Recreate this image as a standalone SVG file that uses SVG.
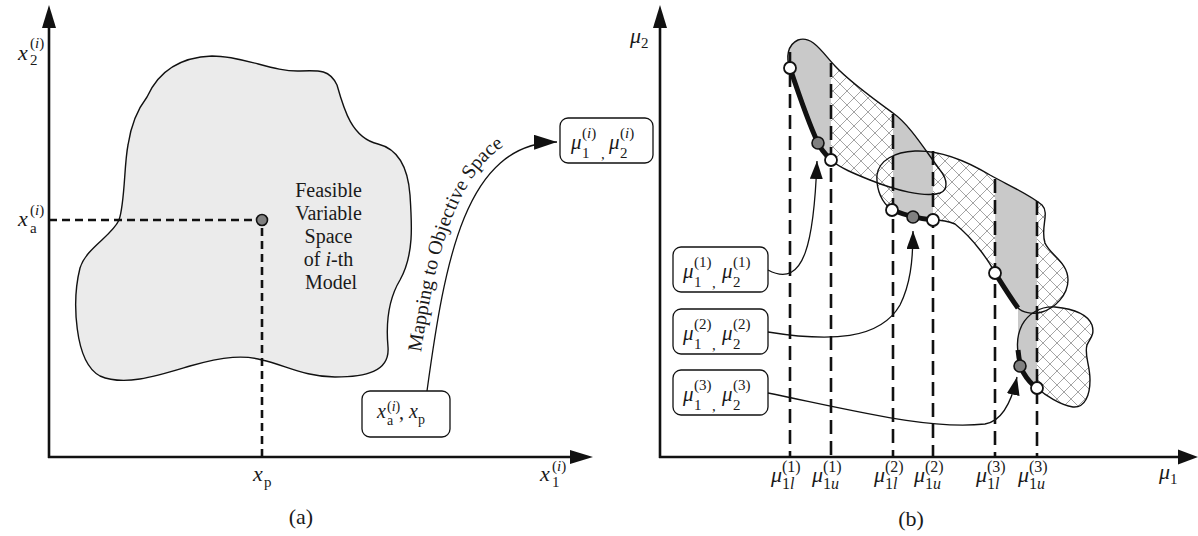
<svg xmlns="http://www.w3.org/2000/svg" width="1198" height="536" viewBox="0 0 1198 536">
  <style>
    .axis { stroke: #111; stroke-width: 2.6; fill: none; }
    .head { fill: #111; stroke: none; }
    .dash-a { stroke: #111; stroke-width: 2.6; stroke-dasharray: 8 5; fill: none; }
    .dash-b { stroke: #111; stroke-width: 2.6; stroke-dasharray: 14 7; fill: none; }
    .box { fill: #fff; stroke: #111; stroke-width: 1.3; }
    .outline { fill: none; stroke: #111; stroke-width: 1.4; }
    .hatched { fill: url(#cross); stroke: none; }
    .band { fill: #c9c9c9; stroke: none; }
    .front { fill: none; stroke: #111; stroke-width: 5; }
    .open { fill: #fff; stroke: #111; stroke-width: 1.8; }
    .mark { fill: #808080; stroke: #111; stroke-width: 1.6; }
    .link { fill: none; stroke: #111; stroke-width: 1.3; }
    .txt { font-family: "Liberation Serif", "Times New Roman", serif; fill: #1a1a1a; }
    .it { font-style: italic; }
  </style>
  <defs>
    <pattern id="cross" patternUnits="userSpaceOnUse" width="14" height="14">
      <rect width="14" height="14" fill="#fff"/>
      <path d="M0,0 L14,14 M14,0 L0,14" stroke="#9a9a9a" stroke-width="0.9" fill="none"/>
    </pattern>
    <marker id="headL" viewBox="0 0 23 15" refX="23" refY="7.5" markerWidth="23" markerHeight="15" markerUnits="userSpaceOnUse" orient="auto">
      <path d="M0,0 L23,7.5 L0,15 Z" fill="#111"/>
    </marker>
    <marker id="headR" viewBox="0 0 18 13" refX="18" refY="6.5" markerWidth="18" markerHeight="13" markerUnits="userSpaceOnUse" orient="auto">
      <path d="M0,0 L18,6.5 L0,13 Z" fill="#111"/>
    </marker>
    <path id="blob1" d="M 790,68 C 786,58 787,45 798,40 C 812,35 822,52 835,66 C 850,82 875,100 893,113 C 910,125 925,150 940,170 C 948,180 948,190 940,193 C 925,198 895,190 870,180 C 855,174 840,168 831,160 C 823,152 820,148 818,143 C 810,120 798,90 790,68 Z"/>
    <path id="blob2" d="M 892,210 C 882,203 876,190 877,175 C 879,160 895,152 915,151 C 940,150 965,160 990,175 C 1010,186 1030,195 1042,205 C 1050,213 1040,228 1045,243 C 1050,255 1068,262 1068,280 C 1068,295 1055,308 1042,312 C 1032,315 1022,312 1018,308 C 1010,297 1002,284 995,273 C 990,263 975,240 955,224 C 948,221 940,220 933,220 C 920,219 905,215 892,210 Z"/>
    <path id="blob3" d="M 1037,388 C 1045,395 1060,405 1073,407 C 1085,408 1090,395 1090,380 C 1090,365 1084,355 1087,345 C 1090,338 1095,335 1092,325 C 1088,315 1075,309 1055,307 C 1040,306 1028,314 1022,325 C 1017,335 1017,345 1018,352 C 1019,360 1020,365 1022,370 C 1026,378 1031,383 1037,388 Z"/>
    <clipPath id="band1"><rect x="780" y="30" width="51" height="200"/></clipPath>
    <clipPath id="band2"><rect x="893" y="90" width="40" height="150"/></clipPath>
    <clipPath id="band3"><rect x="995" y="150" width="42" height="260"/></clipPath>
    <path id="mapText" d="M 416,388 C 434,258 455,132 556,131"/>
  </defs>

  <rect width="1198" height="536" fill="#fff"/>

  <!-- (a) decision space -->
  <g id="panel-a-axes">
    <line class="axis" x1="49" y1="458" x2="49" y2="26"/>
    <polygon class="head" points="49,5 42,28 56,28"/>
    <line class="axis" x1="48" y1="457" x2="572" y2="457"/>
    <polygon class="head" points="593,457 570,450 570,464"/>
    <text class="txt" font-size="22"><tspan class="it" x="18" y="60">x</tspan><tspan x="30" y="48" font-size="15">(<tspan class="it">i</tspan>)</tspan><tspan x="30" y="65" font-size="15">2</tspan></text>
    <text class="txt" font-size="22"><tspan class="it" x="18" y="226">x</tspan><tspan x="30" y="215" font-size="15">(<tspan class="it">i</tspan>)</tspan><tspan x="30" y="233" font-size="15">a</tspan></text>
    <text class="txt" font-size="22"><tspan class="it" x="253" y="481">x</tspan><tspan x="264" y="487" font-size="15">p</tspan></text>
    <text class="txt" font-size="22"><tspan class="it" x="540" y="481">x</tspan><tspan x="552" y="471" font-size="15">(<tspan class="it">i</tspan>)</tspan><tspan x="552" y="487" font-size="15">1</tspan></text>
    <text class="txt" font-size="22" x="301" y="524" text-anchor="middle">(a)</text>
  </g>

  <g id="feasible-region">
    <path d="M 147,97 C 160,68 185,57 212,56 C 245,56 272,72 300,71 C 320,70 330,70 337,85 C 344,110 352,138 378,144 C 398,149 408,168 410,195 C 412,225 414,255 400,280 C 388,300 386,325 388,347 C 390,372 365,377 335,377 C 305,377 285,365 262,360 C 245,355 225,356 190,366 C 160,375 125,387 100,376 C 74,362 72,300 80,268 C 86,248 112,236 119,220 C 125,203 124,165 128,145 C 131,125 137,110 147,97 Z" fill="#ebebeb" stroke="#111" stroke-width="1.4"/>
    <text class="txt" font-size="20" text-anchor="middle">
      <tspan x="331" y="197">Feasible</tspan>
      <tspan x="331" y="220">Variable</tspan>
      <tspan x="331" y="243">Space</tspan>
      <tspan x="331" y="266">of <tspan class="it">i</tspan>-th</tspan>
      <tspan x="331" y="289">Model</tspan>
    </text>
  </g>

  <g id="point-xa">
    <polyline class="dash-a" points="49,220 262,220 262,457"/>
    <circle class="mark" cx="262" cy="220" r="5.5"/>
  </g>

  <g id="node-xa-xp">
    <rect class="box" x="362" y="391" width="88" height="46" rx="8"/>
    <text class="txt" font-size="20"><tspan class="it" x="377" y="418">x</tspan><tspan x="387" y="411" font-size="14">(<tspan class="it">i</tspan>)</tspan><tspan x="387" y="425" font-size="14">a</tspan><tspan x="399" y="419">,</tspan><tspan class="it" x="409" y="418">x</tspan><tspan x="418" y="424" font-size="14">p</tspan></text>
  </g>

  <g id="node-mu-i">
    <rect class="box" x="560" y="118" width="93" height="45" rx="8"/>
    <text class="txt" font-size="21"><tspan class="it" x="571" y="149">μ</tspan><tspan x="582" y="138" font-size="15">(<tspan class="it">i</tspan>)</tspan><tspan x="582" y="158" font-size="15">1</tspan><tspan x="601" y="159" font-size="15">,</tspan><tspan class="it" x="609" y="149">μ</tspan><tspan x="620" y="138" font-size="15">(<tspan class="it">i</tspan>)</tspan><tspan x="620" y="158" font-size="15">2</tspan></text>
  </g>

  <!-- (b) objective space -->
  <g id="panel-b-axes">
    <line class="axis" x1="660" y1="458" x2="660" y2="26"/>
    <polygon class="head" points="660,5 653,28 667,28"/>
    <line class="axis" x1="659" y1="457" x2="1180" y2="457"/>
    <polygon class="head" points="1198,457 1178,449.5 1178,464.5"/>
    <text class="txt" font-size="22"><tspan class="it" x="630" y="43">μ</tspan><tspan x="641" y="48" font-size="15">2</tspan></text>
    <text class="txt" font-size="22"><tspan class="it" x="1159" y="479">μ</tspan><tspan x="1170" y="484" font-size="15">1</tspan></text>
    <text class="txt" font-size="22" x="911" y="526" text-anchor="middle">(b)</text>
  </g>

  <g id="objective-regions">
    <use href="#blob1" class="hatched"/>
    <use href="#blob2" class="hatched"/>
    <use href="#blob3" class="hatched"/>
    <g clip-path="url(#band1)"><use href="#blob1" class="band"/></g>
    <g clip-path="url(#band2)"><use href="#blob1" class="band"/><use href="#blob2" class="band"/></g>
    <g clip-path="url(#band3)"><use href="#blob2" class="band"/><use href="#blob3" class="band"/><rect class="band" x="1018" y="305" width="19" height="40"/></g>
    <use href="#blob1" class="outline"/>
    <use href="#blob2" class="outline"/>
    <use href="#blob3" class="outline"/>
  </g>

  <g id="bounds">
    <line class="dash-b" x1="790" y1="52" x2="790" y2="457"/>
    <line class="dash-b" x1="831" y1="63" x2="831" y2="457"/>
    <line class="dash-b" x1="893" y1="114" x2="893" y2="457"/>
    <line class="dash-b" x1="933" y1="151" x2="933" y2="457"/>
    <line class="dash-b" x1="995" y1="179" x2="995" y2="457"/>
    <line class="dash-b" x1="1037" y1="201" x2="1037" y2="457"/>
    <g class="txt">
      <text font-size="22"><tspan class="it" x="771" y="482">μ</tspan><tspan x="782" y="472" font-size="16">(1)</tspan><tspan x="782" y="489" font-size="16">1<tspan class="it">l</tspan></tspan></text>
      <text font-size="22"><tspan class="it" x="812" y="482">μ</tspan><tspan x="823" y="472" font-size="16">(1)</tspan><tspan x="823" y="489" font-size="16">1<tspan class="it">u</tspan></tspan></text>
      <text font-size="22"><tspan class="it" x="874" y="482">μ</tspan><tspan x="885" y="472" font-size="16">(2)</tspan><tspan x="885" y="489" font-size="16">1<tspan class="it">l</tspan></tspan></text>
      <text font-size="22"><tspan class="it" x="914" y="482">μ</tspan><tspan x="925" y="472" font-size="16">(2)</tspan><tspan x="925" y="489" font-size="16">1<tspan class="it">u</tspan></tspan></text>
      <text font-size="22"><tspan class="it" x="976" y="482">μ</tspan><tspan x="987" y="472" font-size="16">(3)</tspan><tspan x="987" y="489" font-size="16">1<tspan class="it">l</tspan></tspan></text>
      <text font-size="22"><tspan class="it" x="1018" y="482">μ</tspan><tspan x="1029" y="472" font-size="16">(3)</tspan><tspan x="1029" y="489" font-size="16">1<tspan class="it">u</tspan></tspan></text>
    </g>
  </g>

  <g id="fronts">
    <path class="front" d="M 790,68 C 798,92 808,122 818,143 C 821,150 826,155 831,160"/>
    <path class="front" d="M 892,210 C 905,215 920,219 933,220"/>
    <path class="front" d="M 995,273 C 1002,284 1010,297 1018,308"/>
    <path class="front" d="M 1018,350 C 1019,360 1020,366 1023,372 C 1027,379 1031,384 1037,388"/>
    <circle class="open" cx="790" cy="68" r="6"/>
    <circle class="open" cx="831" cy="160" r="6"/>
    <circle class="open" cx="892" cy="210" r="6"/>
    <circle class="open" cx="933" cy="220" r="6"/>
    <circle class="open" cx="995" cy="273" r="6"/>
    <circle class="open" cx="1037" cy="388" r="6"/>
    <circle class="mark" cx="818" cy="143" r="6"/>
    <circle class="mark" cx="913" cy="217" r="6"/>
    <circle class="mark" cx="1020" cy="366" r="6"/>
  </g>

  <g id="node-mu1">
    <rect class="box" x="673" y="247" width="95" height="45" rx="8"/>
    <text class="txt" font-size="21"><tspan class="it" x="683" y="278">μ</tspan><tspan x="694" y="267" font-size="15">(1)</tspan><tspan x="694" y="287" font-size="15">1</tspan><tspan x="712" y="288" font-size="15">,</tspan><tspan class="it" x="722" y="278">μ</tspan><tspan x="733" y="267" font-size="15">(1)</tspan><tspan x="733" y="287" font-size="15">2</tspan></text>
  </g>
  <g id="node-mu2">
    <rect class="box" x="673" y="309" width="95" height="45" rx="8"/>
    <text class="txt" font-size="21"><tspan class="it" x="683" y="340">μ</tspan><tspan x="694" y="329" font-size="15">(2)</tspan><tspan x="694" y="349" font-size="15">1</tspan><tspan x="712" y="350" font-size="15">,</tspan><tspan class="it" x="722" y="340">μ</tspan><tspan x="733" y="329" font-size="15">(2)</tspan><tspan x="733" y="349" font-size="15">2</tspan></text>
  </g>
  <g id="node-mu3">
    <rect class="box" x="673" y="370" width="95" height="45" rx="8"/>
    <text class="txt" font-size="21"><tspan class="it" x="683" y="401">μ</tspan><tspan x="694" y="390" font-size="15">(3)</tspan><tspan x="694" y="410" font-size="15">1</tspan><tspan x="712" y="411" font-size="15">,</tspan><tspan class="it" x="722" y="401">μ</tspan><tspan x="733" y="390" font-size="15">(3)</tspan><tspan x="733" y="410" font-size="15">2</tspan></text>
  </g>

  <g id="connectors">
    <path class="link" d="M 427,391 C 445,260 465,143 557,142" marker-end="url(#headL)"/>
    <text class="txt" font-size="20"><textPath href="#mapText" startOffset="36">Mapping to Objective Space</textPath></text>
    <path class="link" d="M 768,270 C 805,290 814,240 817,161" marker-end="url(#headR)"/>
    <path class="link" d="M 768,332 C 830,342 880,340 900,305 C 910,285 913,262 913,231" marker-end="url(#headR)"/>
    <path class="link" d="M 768,393 C 860,412 930,430 985,424 C 1003,421 1012,400 1017,377" marker-end="url(#headR)"/>
  </g>
</svg>
